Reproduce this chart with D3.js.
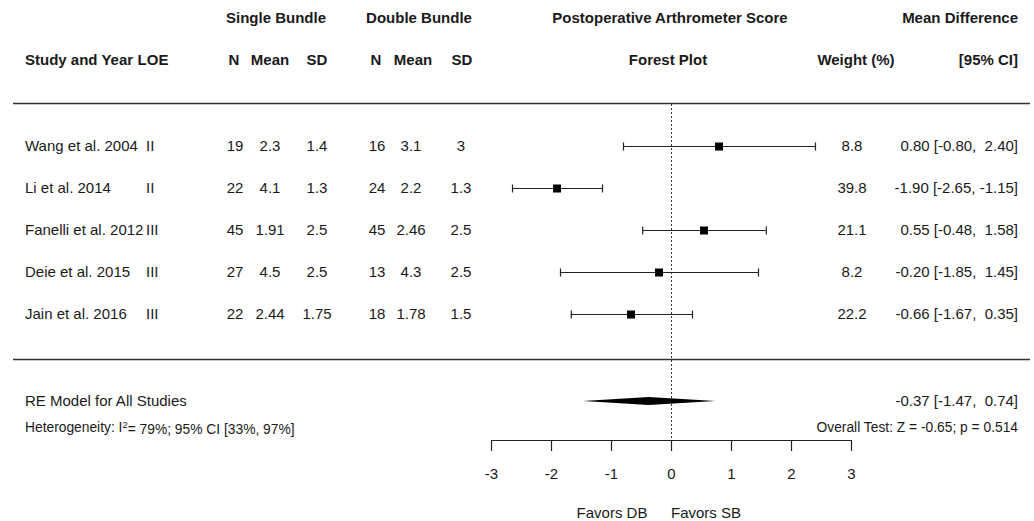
<!DOCTYPE html>
<html>
<head>
<meta charset="utf-8">
<script src="https://cdn.jsdelivr.net/npm/d3@7"></script>
<style>
  body { margin: 0; background: #fff; }
  svg text { font-family: "Liberation Sans", Arial, sans-serif; fill: #1a1a1a; white-space: pre; }
</style>
</head>
<body>
<div id="forest"></div>
<script>
// data
var studies = ["Wang et al. 2004", "Li et al. 2014", "Fanelli et al. 2012", "Deie et al. 2015", "Jain et al. 2016"];
var loe = ["II", "II", "III", "III", "III"];
var sbN = [19, 22, 45, 27, 22];
var sbMean = ["2.3", "4.1", "1.91", "4.5", "2.44"];
var sbSD = ["1.4", "1.3", "2.5", "2.5", "1.75"];
var dbN = [16, 24, 45, 13, 18];
var dbMean = ["3.1", "2.2", "2.46", "4.3", "1.78"];
var dbSD = ["3", "1.3", "2.5", "2.5", "1.5"];
var weights = ["8.8", "39.8", "21.1", "8.2", "22.2"];
var md = [0.80, -1.90, 0.55, -0.20, -0.66];
var ciLo = [-0.80, -2.65, -0.48, -1.85, -1.67];
var ciHi = [2.40, -1.15, 1.58, 1.45, 0.35];
var summary = { est: -0.37, lo: -1.47, hi: 0.74 };
var xTicks = [-3, -2, -1, 0, 1, 2, 3];

var width = 1034, height = 521;

var svg = d3.select("#forest")
  .append("svg")
  .attr("width", width)
  .attr("height", height);

// forest plot scale
var x = d3.scaleLinear()
  .domain([-3, 3])
  .range([491, 851]);

// study rows
var y = d3.scaleBand()
  .domain(d3.range(studies.length))
  .range([125, 335]);
var rowY = function(i) { return y(i) + y.bandwidth() / 2; };

// plain hyphen for negatives, like R output
var f2 = function(v) { return v.toFixed(2); };
var pad = function(v) { var s = f2(v); return v < 0 ? s : " " + s; };
var ciText = function(e, l, h) { return pad(e) + " [" + f2(l) + ", " + pad(h) + "]"; };

function txt(px, py, s, anchor, opts) {
  opts = opts || {};
  return svg.append("text")
    .attr("x", px)
    .attr("y", py)
    .attr("dy", "0.35em")
    .attr("text-anchor", anchor || "start")
    .style("font-size", (opts.size || 15) + "px")
    .style("font-weight", opts.bold ? "bold" : "normal")
    .text(s);
}

// headers
var hb = { bold: true };
txt(276, 18, "Single Bundle", "middle", hb);
txt(419, 18, "Double Bundle", "middle", hb);
txt(670, 18, "Postoperative Arthrometer Score", "middle", hb);
txt(1018, 18, "Mean Difference", "end", hb);
txt(25, 60, "Study and Year", "start", hb);
txt(153, 60, "LOE", "middle", hb);
txt(234, 60, "N", "middle", hb);
txt(270, 60, "Mean", "middle", hb);
txt(317, 60, "SD", "middle", hb);
txt(376, 60, "N", "middle", hb);
txt(413, 60, "Mean", "middle", hb);
txt(462, 60, "SD", "middle", hb);
txt(668, 60, "Forest Plot", "middle", hb);
txt(856, 60, "Weight (%)", "middle", hb);
txt(1018, 60, "[95% CI]", "end", hb);

// rules
svg.append("line")
  .attr("x1", 13).attr("x2", 1030)
  .attr("y1", 103.5).attr("y2", 103.5)
  .attr("stroke", "#333").attr("stroke-width", 1.4);
svg.append("line")
  .attr("x1", 13).attr("x2", 1030)
  .attr("y1", 359.5).attr("y2", 359.5)
  .attr("stroke", "#333").attr("stroke-width", 1.4);

// reference line at zero
svg.append("line")
  .attr("x1", x(0) + 0.5).attr("x2", x(0) + 0.5)
  .attr("y1", 104).attr("y2", 440)
  .attr("stroke", "#333")
  .attr("stroke-width", 1)
  .attr("stroke-dasharray", "2,2");

// table columns
studies.forEach(function(s, i) {
  var yy = rowY(i);
  txt(25, yy, s, "start");
  txt(146, yy, loe[i], "start");
  txt(235, yy, sbN[i], "middle");
  txt(270, yy, sbMean[i], "middle");
  txt(317, yy, sbSD[i], "middle");
  txt(377, yy, dbN[i], "middle");
  txt(411, yy, dbMean[i], "middle");
  txt(461, yy, dbSD[i], "middle");
  txt(852, yy, weights[i], "middle");
  txt(1018, yy, ciText(md[i], ciLo[i], ciHi[i]), "end");
});

// CI whiskers
var g = svg.append("g");
g.selectAll(".ci")
  .data(md)
  .enter()
  .append("line")
  .attr("x1", function(d, i) { return x(ciLo[i]); })
  .attr("x2", function(d, i) { return x(ciHi[i]); })
  .attr("y1", function(d, i) { return rowY(i) + 0.5; })
  .attr("y2", function(d, i) { return rowY(i) + 0.5; })
  .attr("stroke", "#222").attr("stroke-width", 1.2);

[ciLo, ciHi].forEach(function(arr) {
  g.selectAll(null)
    .data(arr)
    .enter()
    .append("line")
    .attr("x1", function(d) { return x(d) + 0.5; })
    .attr("x2", function(d) { return x(d) + 0.5; })
    .attr("y1", function(d, i) { return rowY(i) - 3.5; })
    .attr("y2", function(d, i) { return rowY(i) + 4.5; })
    .attr("stroke", "#222").attr("stroke-width", 1.2);
});

// point estimates
var sq = 8;
g.selectAll(".pt")
  .data(md)
  .enter()
  .append("rect")
  .attr("x", function(d) { return Math.round(x(d) - sq / 2); })
  .attr("y", function(d, i) { return rowY(i) - sq / 2 + 0.5; })
  .attr("width", sq).attr("height", sq)
  .attr("fill", "#000");

// summary
var sy = 401;
txt(25, sy, "RE Model for All Studies", "start");
svg.append("polygon")
  .attr("points", [
    [x(summary.lo), sy], [x(summary.est), sy - 4],
    [x(summary.hi), sy], [x(summary.est), sy + 4]
  ].map(function(p) { return p.join(","); }).join(" "))
  .attr("fill", "#000");
txt(1018, sy, ciText(summary.est, summary.lo, summary.hi), "end");

var het = txt(25, 427, "Heterogeneity: I", "start", { size: 13.8 });
het.append("tspan").attr("dy", "-0.45em").style("font-size", "9.5px").text("2");
het.append("tspan").attr("dy", "0.45em").text("= 79%; 95% CI [33%, 97%]");
txt(1018, 427, "Overall Test: Z = -0.65; p = 0.514", "end", { size: 13.8 });

// x axis
var axis = svg.append("g")
  .attr("transform", "translate(0,440)")
  .call(d3.axisBottom(x)
    .tickValues(xTicks)
    .tickFormat(function(d) { return String(d); })
    .tickSize(11).tickSizeOuter(0).tickPadding(17));
axis.select(".domain").attr("stroke", "#222").attr("stroke-width", 1.2);
axis.selectAll(".tick line").attr("stroke", "#222").attr("stroke-width", 1.2);
axis.selectAll(".tick text")
  .style("font-size", "15px")
  .style("font-family", "'Liberation Sans', Arial, sans-serif")
  .attr("fill", "#1a1a1a");

txt(612, 513, "Favors DB", "middle");
txt(706, 513, "Favors SB", "middle");
</script>
</body>
</html>
